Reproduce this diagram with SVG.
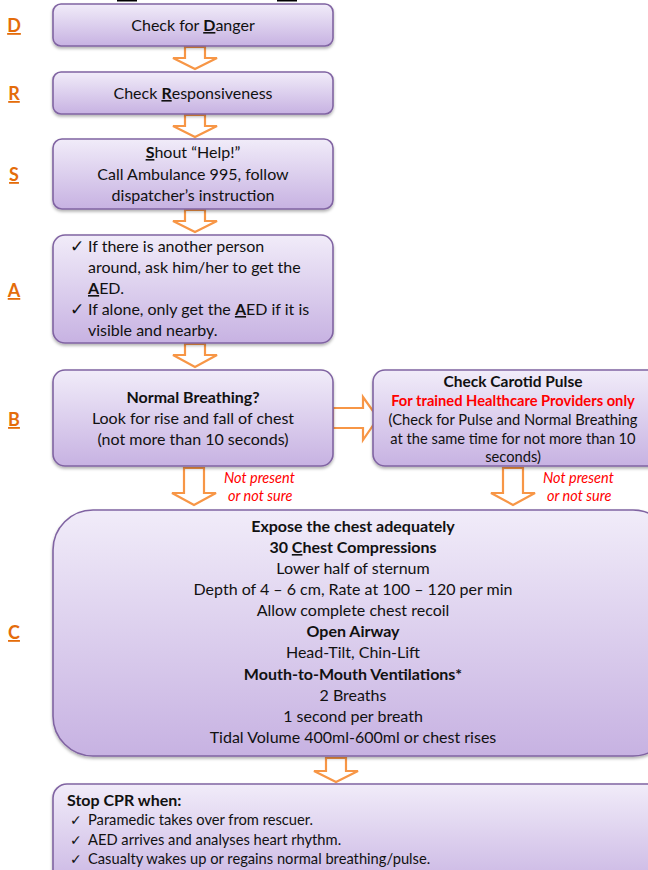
<svg xmlns="http://www.w3.org/2000/svg" width="648" height="870" viewBox="0 0 648 870">
<defs>
<linearGradient id="g" x1="0" y1="0" x2="0" y2="1">
<stop offset="0" stop-color="#F1ECF9"/>
<stop offset="1" stop-color="#C7B2E2"/>
</linearGradient>
<filter id="sh" x="-10%" y="-10%" width="120%" height="130%">
<feDropShadow dx="0" dy="2" stdDeviation="1.5" flood-color="#000" flood-opacity="0.3"/>
</filter>
<style>
.box{fill:url(#g);stroke:#8064A2;stroke-width:1.6;filter:url(#sh)}
.arr{fill:#fff;stroke:#F79646;stroke-width:2.2;stroke-linejoin:miter}
text{font-family:Lato,"Noto Sans","Liberation Sans",sans-serif;fill:#111}
.t{font-size:16px;text-anchor:middle}
.tl{font-size:16px}
.ck{font-size:17px;font-family:"DejaVu Sans",sans-serif}
.b{font-weight:bold}
.u{text-decoration:underline}
.lab{font-size:18px;font-weight:bold;fill:#E46C0A;text-decoration:underline;text-anchor:middle}
.red{fill:#FF0000}
.np{font-size:14.5px;font-style:italic;fill:#FF0000}
.s{font-size:14.7px}
</style>
</defs>
<rect x="117" y="0" width="20" height="1.5" fill="#000"/>
<rect x="277" y="0" width="20" height="1.5" fill="#000"/>
<g id="labels">
<text class="lab" x="14" y="32">D</text>
<text class="lab" x="14" y="100">R</text>
<text class="lab" x="14" y="181">S</text>
<text class="lab" x="14" y="297">A</text>
<text class="lab" x="14" y="426">B</text>
<text class="lab" x="14" y="639">C</text>
</g>
<g id="connectors">
<path class="arr" d="M185,47 H205 V58 H217 L195,69 L173,58 H185 Z"/>
<path class="arr" d="M185,115 H205 V126 H217 L195,137 L173,126 H185 Z"/>
<path class="arr" d="M185,210 H205 V221 H217 L195,232 L173,221 H185 Z"/>
<path class="arr" d="M185,344 H205 V355 H217 L195,367 L173,355 H185 Z"/>
<path class="arr" d="M184,468 H204 V493 H216 L194,505 L172,493 H184 Z"/>
<path class="arr" d="M503,468 H523 V493 H535 L513,505 L491,493 H503 Z"/>
<path class="arr" d="M326,758 H346 V771 H358 L336,782 L314,771 H326 Z"/>
<path class="arr" d="M333,408 H363 V397 L378,418 L363,440 V428 H333 Z"/>
</g>
<g id="nodeD">
<rect class="box" x="53" y="4" width="280" height="42" rx="8"/>
<text class="t" x="193" y="31">Check for <tspan class="b u">D</tspan>anger</text>
</g>
<g id="nodeR">
<rect class="box" x="53" y="72" width="280" height="42" rx="8"/>
<text class="t" x="193" y="99">Check <tspan class="b u">R</tspan>esponsiveness</text>
</g>
<g id="nodeS">
<rect class="box" x="53" y="139" width="280" height="70" rx="9"/>
<text class="t" x="193" y="158"><tspan class="b u">S</tspan>hout “Help!”</text>
<text class="t" x="193" y="180">Call Ambulance 995, follow</text>
<text class="t" x="193" y="201">dispatcher’s instruction</text>
</g>
<g id="nodeA">
<rect class="box" x="53" y="235" width="280" height="108" rx="12"/>
<text class="ck" x="70" y="252">✓</text>
<text class="tl" x="88" y="252">If there is another person</text>
<text class="tl" x="88" y="273">around, ask him/her to get the</text>
<text class="tl" x="88" y="294"><tspan class="b u">A</tspan>ED.</text>
<text class="ck" x="70" y="315">✓</text>
<text class="tl" x="88" y="315">If alone, only get the <tspan class="b u">A</tspan>ED if it is</text>
<text class="tl" x="88" y="336">visible and nearby.</text>
</g>
<g id="nodeB">
<rect class="box" x="53" y="370" width="280" height="96" rx="12"/>
<text class="t b" x="193" y="403">Normal Breathing?</text>
<text class="t" x="193" y="424">Look for rise and fall of chest</text>
<text class="t" x="193" y="445">(not more than 10 seconds)</text>
</g>
<g id="nodePulse">
<rect class="box" x="373" y="370" width="290" height="96" rx="12"/>
<text class="t b" x="513" y="387" style="font-size:15.5px">Check Carotid Pulse</text>
<text class="t b red s" x="513" y="406">For trained Healthcare Providers only</text>
<text class="t s" x="513" y="425">(Check for Pulse and Normal Breathing</text>
<text class="t s" x="513" y="444">at the same time for not more than 10</text>
<text class="t s" x="513" y="462">seconds)</text>
</g>
<g id="notes">
<text class="np" x="224" y="483">Not present</text>
<text class="np" x="228" y="501">or not sure</text>
<text class="np" x="543" y="483">Not present</text>
<text class="np" x="547" y="501">or not sure</text>
</g>
<g id="nodeC">
<rect class="box" x="53" y="510" width="620" height="246" rx="40"/>
<text class="t b" x="353" y="532">Expose the chest adequately</text>
<text class="t b" x="353" y="553">30 <tspan class="u">C</tspan>hest Compressions</text>
<text class="t" x="353" y="574">Lower half of sternum</text>
<text class="t" x="353" y="595">Depth of 4 – 6 cm, Rate at 100 – 120 per min</text>
<text class="t" x="353" y="616">Allow complete chest recoil</text>
<text class="t b" x="353" y="637">Open Airway</text>
<text class="t" x="353" y="658">Head-Tilt, Chin-Lift</text>
<text class="t b" x="353" y="680">Mouth-to-Mouth Ventilations*</text>
<text class="t" x="353" y="701">2 Breaths</text>
<text class="t" x="353" y="722">1 second per breath</text>
<text class="t" x="353" y="743">Tidal Volume 400ml-600ml or chest rises</text>
</g>
<g id="nodeStop">
<rect class="box" x="53" y="784" width="620" height="110" rx="14"/>
<text class="b" x="67" y="806" style="font-size:16px">Stop CPR when:</text>
<text class="ck" x="70" y="825" style="font-size:14px">✓</text>
<text class="s" x="88" y="825">Paramedic takes over from rescuer.</text>
<text class="ck" x="70" y="845" style="font-size:14px">✓</text>
<text class="s" x="88" y="845">AED arrives and analyses heart rhythm.</text>
<text class="ck" x="70" y="864" style="font-size:14px">✓</text>
<text class="s" x="88" y="864">Casualty wakes up or regains normal breathing/pulse.</text>
</g>
</svg>
